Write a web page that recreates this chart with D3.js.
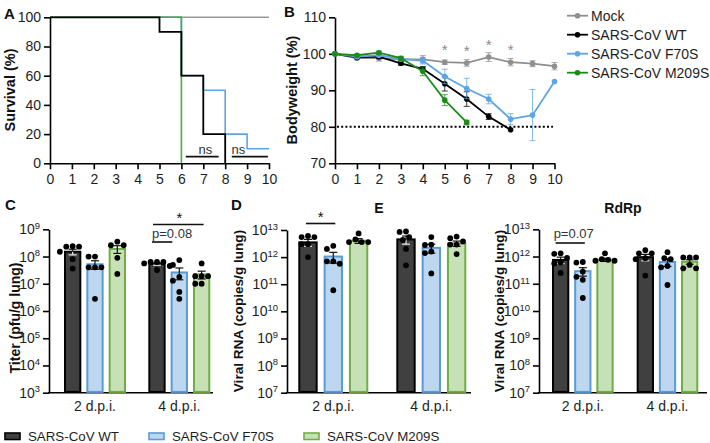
<!DOCTYPE html>
<html><head><meta charset="utf-8">
<script src="https://cdn.jsdelivr.net/npm/d3@7"></script>
<style>body{margin:0;background:#fff}svg{display:block}</style>
</head><body>
<svg id="c" width="710" height="443"></svg>
<script>
// ================= DATA =================
const days = [0,1,2,3,4,5,6,7,8,9,10];
const groupNames = ["Mock","SARS-CoV WT","SARS-CoV F70S","SARS-CoV M209S"];

// Panel A – survival (Kaplan-Meier steps)
const survTimeMock = [0,10],          survMock = [100,100];
const survTimeWT   = [0,5,6,7,8],     survWT   = [100,90,60,20,0];
const survTimeF70S = [0,6,7,8,9,10],  survF70S = [100,60,50,20,10,10];
const survTimeM209S= [0,6],           survM209S= [100,0];
const nsLabels = ["ns","ns"];
const nsStart  = [6.2, 8.3];
const nsEnd    = [7.7, 9.95];
const nsTextAt = [7.1, 8.6];
const nsLevel  = 4.6;

// Panel B – bodyweight (%)
const bwMock  = [100,98.8,98.8,98.5,98.5,97.7,97.5,99.1,97.7,97.3,96.6];
const bwMockErr=[0,0.4,0.8,0.5,1.0,0.6,0.9,1.2,1.0,0.8,1.0];
const bwWT    = [100,99.0,99.2,97.4,95.9,91.8,87.6,82.8,79.2];
const bwWTErr = [0,0.3,0.5,0.5,0.6,2.0,2.0,0.8,0];
const bwF70S  = [100,99.2,99.6,98.6,98.1,93.8,90.5,87.6,82.1,83.2,92.4];
const bwF70SErr=[0,0.3,0.4,0.5,0.9,2.0,2.8,1.3,1.5,7.0,0];
const bwM209S = [100,99.6,100.3,98.8,95.2,87.3,81.2];
const bwM209SErr=[0,0.3,0.4,0.5,1.2,1.5,0.6];
const bwStarDays = [5,6,7,8];
const bwThreshold = 80;

// Bar panels
const timepoints = ["2 d.p.i.","4 d.p.i."];
const barSeries  = ["SARS-CoV WT","SARS-CoV F70S","SARS-CoV M209S"];

// C – Titer (pfu/g lung)
const titerMean = [[1.5e8,5.2e7,1.9e8],[5.3e7,2.6e7,2.2e7]];
const titerSem  = [[3.5e7,1.8e7,6.0e7],[5e6,1.2e7,7e6]];
const titerDots = [
  [[2.3e8,2.4e8,2.3e8,1.5e8,8e7,3.6e7],[1e8,1e8,4e7,4e7,4e7,2.8e6],[2.6e8,3.5e8,2.6e8,9e7,2.3e7]],
  [[6.3e7,6.3e7,6.3e7,5.6e7,3.2e7,4.5e7],[4.9e7,7.4e7,1.3e7,1.8e7,5e6,2.8e6],[5.6e7,1.9e7,1.9e7,1.9e7,1e7,1e7]]
];

// D – E gene viral RNA (copies/g lung)
const eMean = [[3.5e12,1.05e12,4.0e12],[4.5e12,2.2e12,3.2e12]];
const eSem  = [[1.0e12,0.45e12,0.8e12],[1.5e12,0.8e12,0.7e12]];
const eDots = [
  [[5.5e12,6e12,5.5e12,3e12,3e12,1e12],[2e12,2.6e12,7e11,7e11,5.7e11,6e10],[7.5e12,3.6e12,3.6e12,3.6e12,4.5e12]],
  [[8.5e12,8.8e12,5.5e12,4.3e12,2e12,5e11],[5.5e12,2.9e12,2.8e12,1.4e12,1.6e12,2.5e11],[5e12,5.7e12,3.8e12,2.9e12,2.9e12,1.3e12]]
];

// E – RdRp viral RNA (copies/g lung)
const rMean = [[7.5e11,2.9e11,7.6e11],[9.5e11,6.3e11,6.4e11]];
const rSem  = [[2.0e11,1.0e11,1.0e11],[2.5e11,2.0e11,1.2e11]];
const rDots = [
  [[1.3e12,1.25e12,9e11,6e11,5.6e11,2.5e11],[6e11,6.3e11,2.8e11,1.4e11,1.8e11,3e10],[1.3e12,7e11,7e11,7.6e11,8e11]],
  [[1.7e12,1.3e12,1.3e12,8.7e11,8e11,2e11],[1.45e12,8e11,8.7e11,4e11,4.5e11,9e10],[9.3e11,9.3e11,9.3e11,3.7e11,4.9e11,3.7e11]]
];

// ================= STYLE =================
const FONT = '"Liberation Sans", Arial, Helvetica, sans-serif';
const lineColors = {"Mock":"#8f8f8f","SARS-CoV WT":"#000000","SARS-CoV F70S":"#5fa5e3","SARS-CoV M209S":"#1b8c1b"};
const survColors = {"Mock":"#9a9a9a","SARS-CoV WT":"#000000","SARS-CoV F70S":"#5fa5e3","SARS-CoV M209S":"#52a83a"};
const barFill   = {"SARS-CoV WT":"#404040","SARS-CoV F70S":"#bcd7ef","SARS-CoV M209S":"#c6e1b5"};
const barStroke = {"SARS-CoV WT":"#000000","SARS-CoV F70S":"#5b9bd5","SARS-CoV M209S":"#70ad47"};

const svg = d3.select("#c").attr("font-family", FONT);

function styleAxis(g, fs){
  g.attr("font-family", FONT).attr("font-size", fs || 14);
  g.select(".domain").attr("stroke","#000").attr("stroke-width",1.6);
  g.selectAll(".tick line").attr("stroke","#000").attr("stroke-width",1.6);
  g.selectAll(".tick text").attr("fill","#1e1e1e");
}
function label(x,y,t,opt){
  opt = opt||{};
  const el = svg.append("text").attr("x",x).attr("y",y).text(t)
    .attr("font-size",opt.size||14).attr("font-weight",opt.bold?"bold":"normal")
    .attr("fill",opt.fill||"#111").attr("text-anchor",opt.anchor||"start");
  if(opt.rotate) el.attr("transform",`rotate(-90,${x},${y})`);
  if(opt.baseline) el.attr("dominant-baseline",opt.baseline);
  return el;
}

// ================= PANEL A =================
const xA = d3.scaleLinear().domain([0,10]).range([50,269]);
const yA = d3.scaleLinear().domain([0,100]).range([163.3,17.3]);
svg.append("g").attr("transform",`translate(0,${yA(0)})`)
  .call(d3.axisBottom(xA).tickValues(days).tickSize(6).tickSizeOuter(0).tickPadding(5))
  .call(g=>styleAxis(g));
svg.append("g").attr("transform",`translate(${xA(0)},0)`)
  .call(d3.axisLeft(yA).tickValues([0,20,40,60,80,100]).tickSize(6).tickSizeOuter(0).tickPadding(3))
  .call(g=>styleAxis(g));

const stepLine = d3.line().x(d=>xA(d[0])).y(d=>yA(d[1])).curve(d3.curveStepAfter);
const survSets = [
  ["Mock", survTimeMock, survMock, 1.6],
  ["SARS-CoV F70S", survTimeF70S, survF70S, 1.6],
  ["SARS-CoV M209S", survTimeM209S, survM209S, 1.6],
  ["SARS-CoV WT", survTimeWT, survWT, 1.8]
];
survSets.forEach(([name,t,s,w])=>{
  svg.append("path").datum(t.map((d,i)=>[d,s[i]]))
    .attr("d",stepLine).attr("fill","none").attr("stroke",survColors[name]).attr("stroke-width",w);
});
nsLabels.forEach((t,i)=>{
  svg.append("line").attr("x1",xA(nsStart[i])).attr("x2",xA(nsEnd[i]))
    .attr("y1",yA(nsLevel)).attr("y2",yA(nsLevel)).attr("stroke","#111").attr("stroke-width",1.6);
  label(xA(nsTextAt[i]), yA(nsLevel)-3, t, {anchor:"middle", size:13, fill:"#333"});
});
label(4,18.5,"A",{bold:true,size:15});
label(10,90,"Survival (%)",{bold:true,size:14.5,rotate:true,anchor:"middle",baseline:"central"});

// ================= PANEL B =================
const xB = d3.scaleLinear().domain([0,10]).range([335,554.5]);
const yB = d3.scaleLinear().domain([70,110]).range([163.3,17.3]);
svg.append("g").attr("transform",`translate(0,${yB(70)})`)
  .call(d3.axisBottom(xB).tickValues(days).tickSize(6).tickSizeOuter(0).tickPadding(5))
  .call(g=>styleAxis(g));
svg.append("g").attr("transform",`translate(${xB(0)},0)`)
  .call(d3.axisLeft(yB).tickValues([70,80,90,100,110]).tickSize(6).tickSizeOuter(0).tickPadding(3))
  .call(g=>styleAxis(g));
svg.append("line").attr("x1",xB(0)+2).attr("x2",xB(9.93)).attr("y1",yB(bwThreshold)).attr("y2",yB(bwThreshold))
  .attr("stroke","#000").attr("stroke-width",2).attr("stroke-dasharray","2,2.2");

const bwSets = [
  ["Mock", bwMock, bwMockErr],
  ["SARS-CoV WT", bwWT, bwWTErr],
  ["SARS-CoV F70S", bwF70S, bwF70SErr],
  ["SARS-CoV M209S", bwM209S, bwM209SErr]
];
const lineB = d3.line().x((d,i)=>xB(days[i])).y(d=>yB(d));
bwSets.forEach(([name,vals,errs])=>{
  const c = lineColors[name];
  const g = svg.append("g");
  vals.forEach((v,i)=>{
    if(errs[i]>0){
      const x = xB(days[i]);
      g.append("line").attr("x1",x).attr("x2",x).attr("y1",yB(v-errs[i])).attr("y2",yB(v+errs[i]))
        .attr("stroke",c).attr("stroke-width",1).attr("opacity",0.75);
      [v-errs[i], v+errs[i]].forEach(e=>g.append("line").attr("x1",x-3).attr("x2",x+3)
        .attr("y1",yB(e)).attr("y2",yB(e)).attr("stroke",c).attr("stroke-width",1).attr("opacity",0.75));
    }
  });
  g.append("path").datum(vals).attr("d",lineB).attr("fill","none").attr("stroke",c).attr("stroke-width",1.8);
  g.selectAll("circle").data(vals).join("circle").attr("cx",(d,i)=>xB(days[i])).attr("cy",d=>yB(d))
    .attr("r",2.8).attr("fill",c);
});
bwStarDays.forEach(d=>{
  label(xB(d), yB(bwMock[d])-7, "*", {anchor:"middle", size:15, fill:"#8a8a8a"});
});
// legend B
groupNames.forEach((name,i)=>{
  const y = 15.7 + i*19;
  const c = lineColors[name];
  svg.append("line").attr("x1",567).attr("x2",588).attr("y1",y).attr("y2",y).attr("stroke",c).attr("stroke-width",1.8);
  svg.append("circle").attr("cx",577.5).attr("cy",y).attr("r",2.8).attr("fill",c);
  label(591,y,name,{size:14,baseline:"central",fill:"#1e1e1e"});
});
label(284,17,"B",{bold:true,size:15});
label(292,90,"Bodyweight (%)",{bold:true,size:14.5,rotate:true,anchor:"middle",baseline:"central"});

// ================= BAR PANELS =================
function swarm(vals, y, r){
  const order = vals.map((v,i)=>i).sort((a,b)=>vals[b]-vals[a]);
  const placed = []; const out = new Array(vals.length);
  const s = 2*r+0.6;
  const cands = [0];
  for(let k=1;k<8;k++){cands.push(-k*s/2, k*s/2);}
  order.forEach(i=>{
    const yy = y(vals[i]);
    for(const dx of cands){
      if(placed.every(p=>Math.hypot(p[0]-dx,p[1]-yy) >= s-0.01)){
        placed.push([dx,yy]); out[i]=dx; break;
      }
    }
  });
  return out;
}

function barPanel(cfg){
  const y = d3.scaleLog().domain(cfg.domain).range([392.7, cfg.top]);
  const outer = d3.scaleBand().domain(timepoints).range(cfg.range).paddingInner(cfg.padOuter).paddingOuter(0);
  const inner = d3.scaleBand().domain(barSeries).range([0,outer.bandwidth()]).paddingInner(cfg.padInner).paddingOuter(0);
  const exps = d3.range(Math.log10(cfg.domain[0]), Math.log10(cfg.domain[1])+1).map(e=>Math.pow(10,e));
  const ax = svg.append("g").attr("transform",`translate(${cfg.x0},0)`)
    .call(d3.axisLeft(y).tickValues(exps).tickSize(6).tickSizeOuter(0).tickPadding(3).tickFormat(""))
    .call(g=>styleAxis(g));
  ax.selectAll(".tick text").each(function(d){
    const e = Math.round(Math.log10(d));
    const t = d3.select(this);
    t.append("tspan").text("10");
    t.append("tspan").attr("dy","-0.55em").attr("font-size","9.5px").text(e);
  });
  svg.append("line").attr("x1",cfg.x0-0.8).attr("x2",cfg.x1).attr("y1",y(cfg.domain[0])).attr("y2",y(cfg.domain[0]))
    .attr("stroke","#000").attr("stroke-width",1.6);
  const r = 2.9;
  timepoints.forEach((tp,gi)=>{
    const gx = outer(tp);
    label(gx+outer.bandwidth()/2, 411, tp, {anchor:"middle", size:14, fill:"#1e1e1e"});
    barSeries.forEach((s,si)=>{
      const bx = gx + inner(s), bw = inner.bandwidth();
      const m = cfg.mean[gi][si], se = cfg.sem[gi][si];
      svg.append("rect").attr("x",bx+1).attr("y",y(m)).attr("width",bw-2).attr("height",y(cfg.domain[0])-y(m)-0.8)
        .attr("fill",barFill[s]).attr("stroke",barStroke[s]).attr("stroke-width",2);
      const cx = bx + bw/2;
      const inCol = s==="SARS-CoV WT" ? "#e8e8e8" : "#111";
      svg.append("line").attr("x1",cx).attr("x2",cx).attr("y1",y(m)).attr("y2",y(m+se)).attr("stroke","#111").attr("stroke-width",1.2);
      svg.append("line").attr("x1",cx-4).attr("x2",cx+4).attr("y1",y(m+se)).attr("y2",y(m+se)).attr("stroke","#111").attr("stroke-width",1.2);
      svg.append("line").attr("x1",cx).attr("x2",cx).attr("y1",y(m)).attr("y2",y(m-se)).attr("stroke",inCol).attr("stroke-width",1.2);
      svg.append("line").attr("x1",cx-4).attr("x2",cx+4).attr("y1",y(m-se)).attr("y2",y(m-se)).attr("stroke",inCol).attr("stroke-width",1.2);
      const dots = cfg.dots[gi][si];
      const offs = swarm(dots, y, r);
      dots.forEach((v,k)=>{
        svg.append("circle").attr("cx",cx+offs[k]).attr("cy",y(v)).attr("r",r).attr("fill","#000");
      });
    });
  });
  return {y, outer, inner};
}
function center(p, gi, si){ return p.outer(timepoints[gi]) + p.inner(barSeries[si]) + p.inner.bandwidth()/2; }

// C
const pC = barPanel({x0:49, x1:213, domain:[1e3,1e9], top:229.3, range:[64,210.3], padOuter:0.265, padInner:0.224,
  mean:titerMean, sem:titerSem, dots:titerDots});
svg.append("line").attr("x1",center(pC,1,0)-4).attr("x2",center(pC,1,2)+2).attr("y1",224.5).attr("y2",224.5).attr("stroke","#111").attr("stroke-width",1.6);
label((center(pC,1,0)+center(pC,1,2))/2, 223, "*", {anchor:"middle", size:15});
svg.append("line").attr("x1",center(pC,1,0)-5).attr("x2",center(pC,1,1)-7).attr("y1",242).attr("y2",242).attr("stroke","#111").attr("stroke-width",1.6);
label(center(pC,1,0)-5, 238, "p=0.08", {size:13, fill:"#333"});
label(5,210,"C",{bold:true,size:15});
label(15,318,"Titer (pfu/g lung)",{bold:true,size:14,rotate:true,anchor:"middle",baseline:"central"});

// D (E gene)
const pD = barPanel({x0:287, x1:471, domain:[1e7,1e13], top:230, range:[298.3,466.3], padOuter:0.286, padInner:0.235,
  mean:eMean, sem:eSem, dots:eDots});
svg.append("line").attr("x1",center(pD,0,0)-2).attr("x2",center(pD,0,1)+2).attr("y1",223.5).attr("y2",223.5).attr("stroke","#111").attr("stroke-width",1.6);
label((center(pD,0,0)+center(pD,0,1))/2, 222, "*", {anchor:"middle", size:15});
label(231,210,"D",{bold:true,size:15});
label(379,213,"E",{bold:true,size:14,anchor:"middle"});
label(238,311,"Viral RNA (copies/g lung)",{bold:true,size:13.6,rotate:true,anchor:"middle",baseline:"central"});

// E (RdRp)
const pR = barPanel({x0:539, x1:707, domain:[1e7,1e13], top:229.3, range:[552,698.3], padOuter:0.272, padInner:0.22,
  mean:rMean, sem:rSem, dots:rDots});
svg.append("line").attr("x1",center(pR,0,0)-5).attr("x2",center(pR,0,1)+2).attr("y1",243).attr("y2",243).attr("stroke","#111").attr("stroke-width",1.6);
label(center(pR,0,0)-7, 238, "p=0.07", {size:13, fill:"#333"});
label(623,213,"RdRp",{bold:true,size:14,anchor:"middle"});
label(499,311,"Viral RNA (copies/g lung)",{bold:true,size:13.6,rotate:true,anchor:"middle",baseline:"central"});

// bottom legend
const legX = [4,148,303];
barSeries.forEach((s,i)=>{
  svg.append("rect").attr("x",legX[i]+1).attr("y",433).attr("width",15).attr("height",6.5)
    .attr("fill",barFill[s]).attr("stroke",barStroke[s]).attr("stroke-width",1.6);
  label(legX[i]+24, 436.5, s, {size:13.3, baseline:"central", fill:"#1e1e1e"});
});
</script>
</body></html>
